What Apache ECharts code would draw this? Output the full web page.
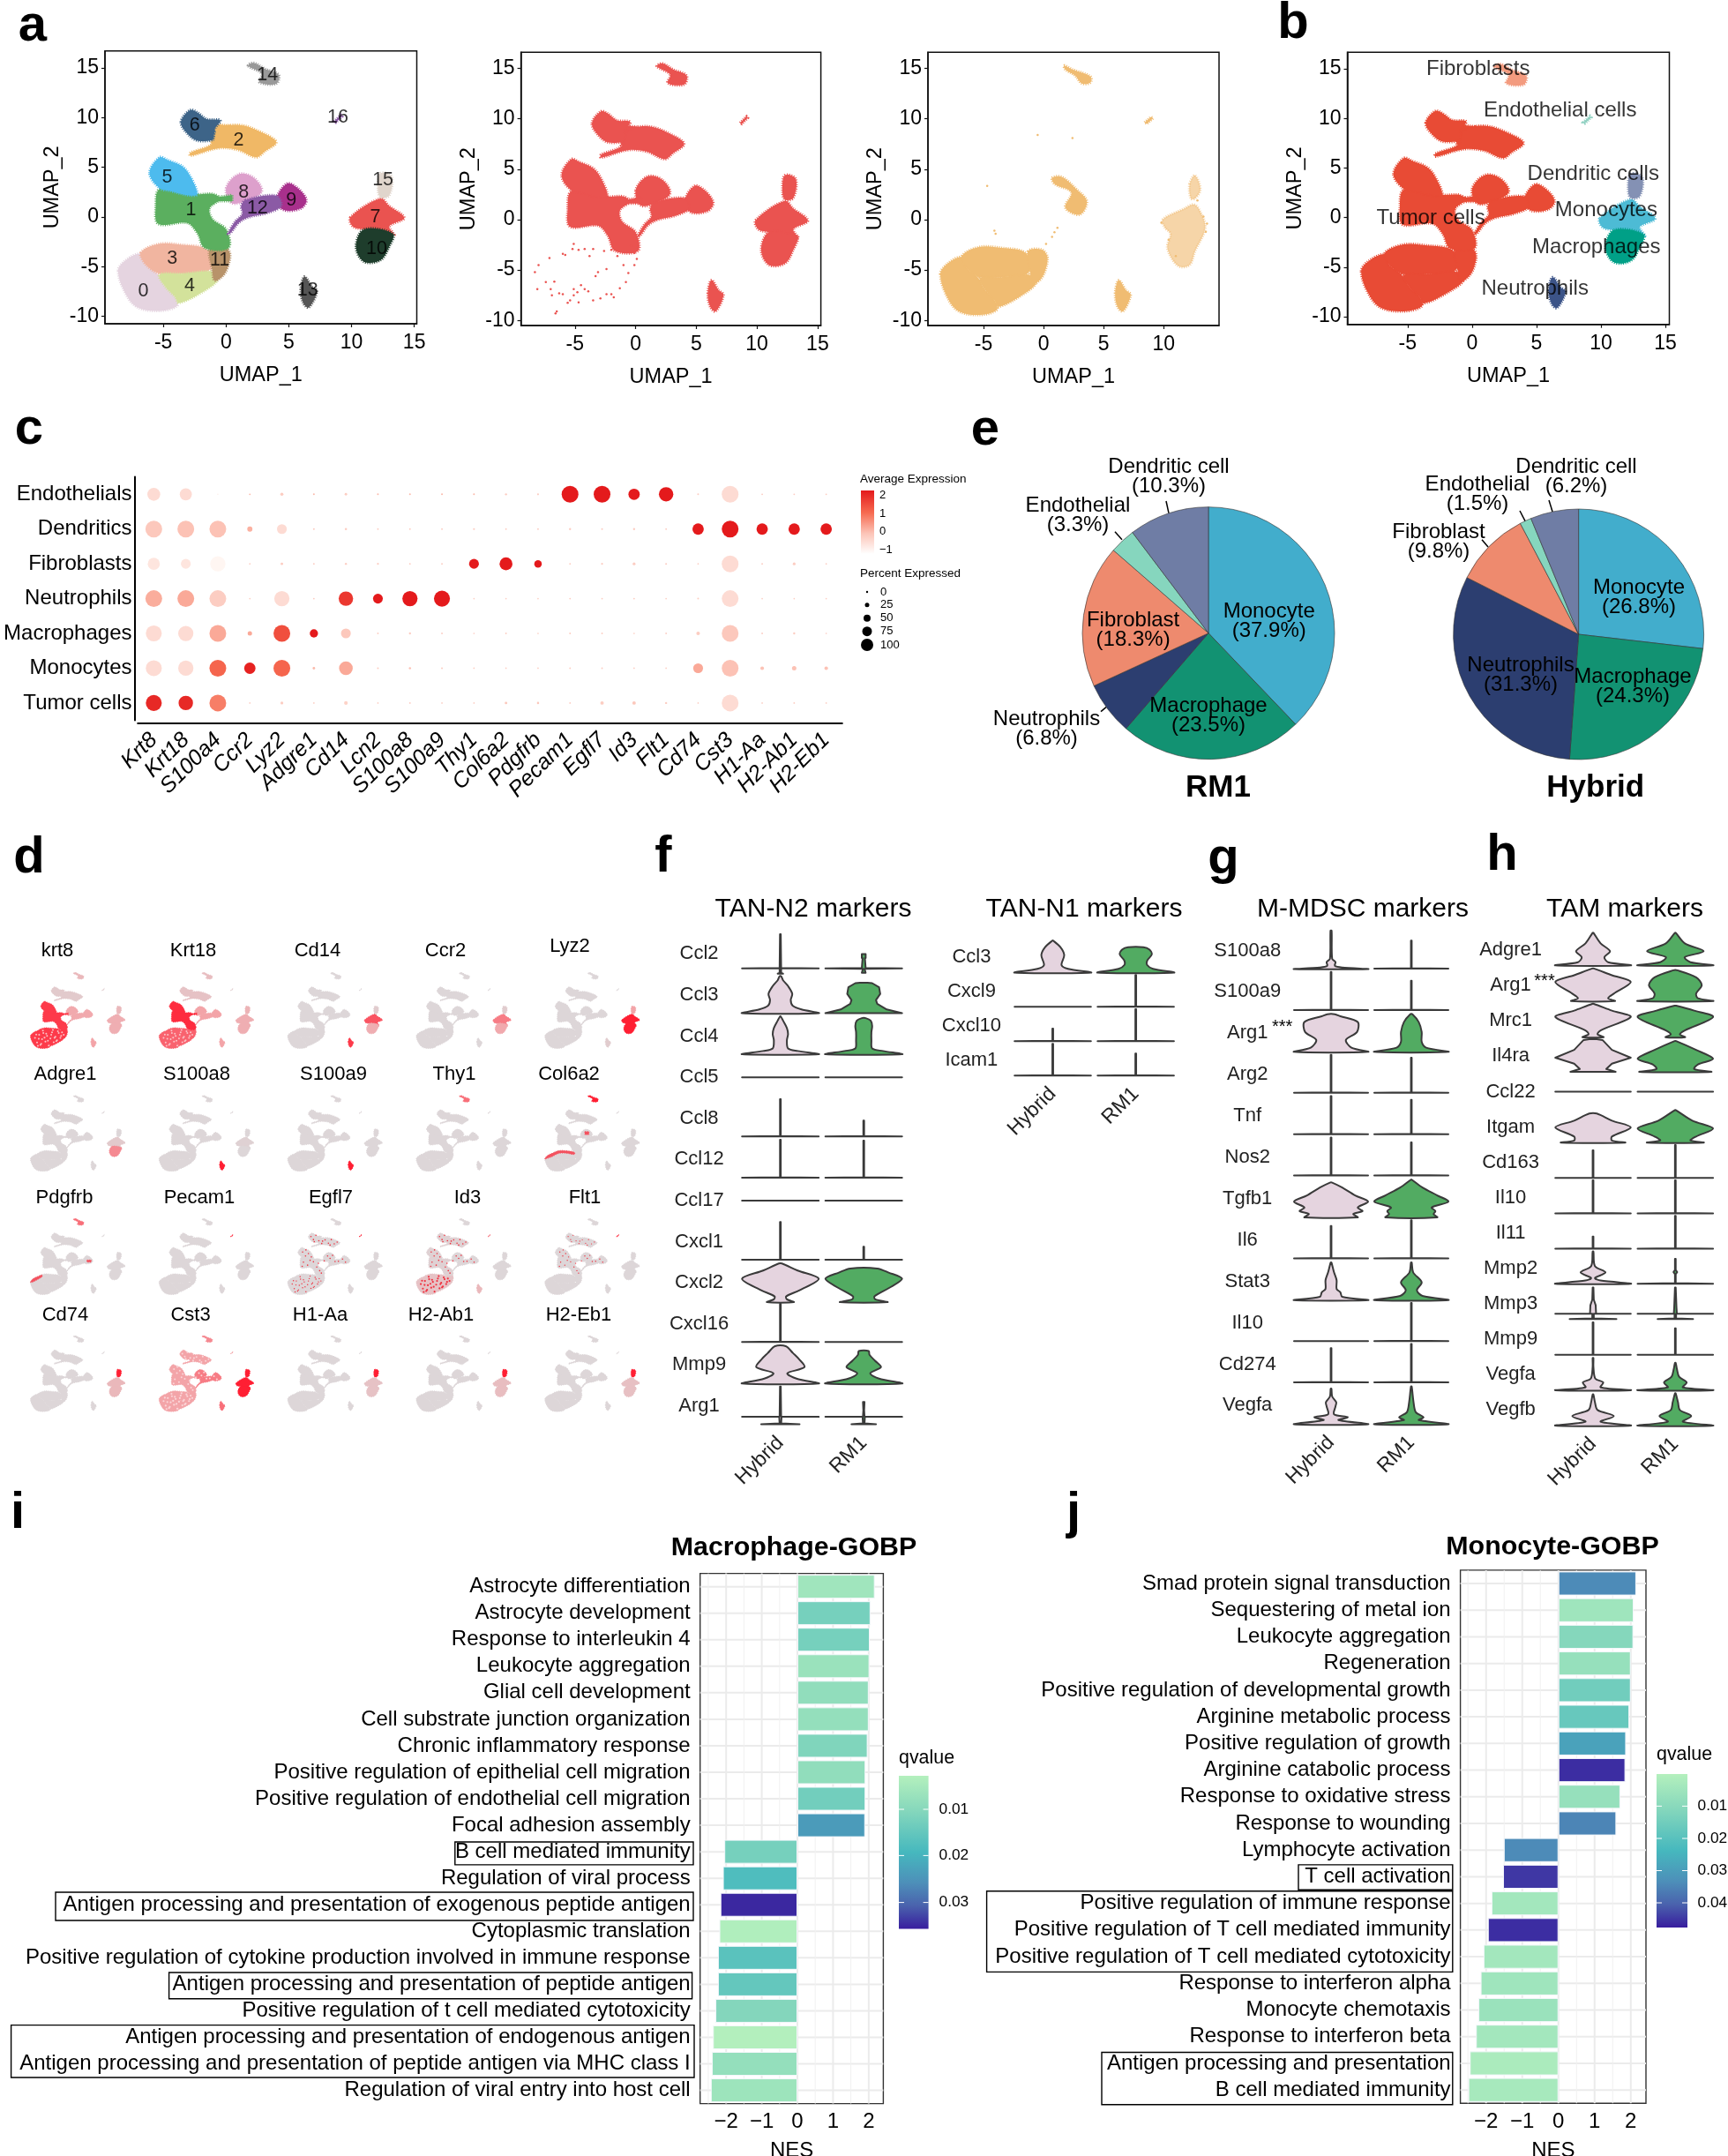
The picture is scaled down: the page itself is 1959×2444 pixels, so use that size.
<!DOCTYPE html>
<html><head><meta charset="utf-8">
<script src="https://cdn.jsdelivr.net/npm/echarts@6/dist/echarts.min.js"></script>
<style>html,body{margin:0;padding:0;background:#fff}#c{width:1959px;height:2444px}</style>
</head><body><div id="c"></div>
<script>
// ---------- UMAP cluster outlines, in UMAP units ----------
const c0=[[-8.6,-5.4],[-8.0,-4.35],[-6.8,-3.7],[-6.4,-4.8],[-5.5,-5.7],[-4.85,-7.0],[-4.05,-8.05],[-3.9,-8.95],[-5.3,-9.45],[-7.05,-9.1],[-8.0,-7.75]];
const c1=[[-5.3,2.8],[-2.85,2.6],[-2.3,2.3],[-1,2.3],[-0.5,1.8],[-1.3,0.9],[-1.1,-0.2],[0,-1.25],[0.2,-3.1],[-1.7,-3.1],[-2.3,-1.6],[-3.1,-0.6],[-5.4,-0.7],[-5.6,1.1]];
const c2=[[-0.65,8.8],[1.1,9.25],[3.1,8.35],[4.0,7.5],[3.1,6.6],[2.4,6.0],[0.9,6.75],[-0.65,6.9],[-2.85,6.15],[-2.85,6.45],[-1.1,7.35]];
const c3=[[-6.8,-3.6],[-5.3,-2.7],[-3.5,-2.8],[-1.55,-3.25],[-1.1,-4.8],[-1.55,-5.5],[-3.5,-5.7],[-5.3,-5.7],[-6.4,-4.8]];
const c4=[[-5.3,-5.8],[-3.5,-5.7],[-1.1,-5.5],[-0.65,-6.3],[-1.75,-7.45],[-3.75,-8.65],[-4.05,-8.05],[-4.85,-7.0]];
const c5=[[-6.1,4.4],[-5.3,6.0],[-4.6,5.7],[-3.5,5.1],[-2.85,4.1],[-2.3,2.3],[-2.85,2.15],[-4.4,2.6],[-5.3,2.9]];
const c6=[[-3.6,9.55],[-2.85,10.75],[-2.2,10.45],[-1.55,9.85],[-0.45,9.7],[-0.9,8.8],[-0.65,7.95],[-2.2,7.65],[-3.1,8.4]];
const c7=[[9.9,-0.05],[12.3,1.85],[13,1.1],[14.2,-0.1],[13,-0.95],[13.4,-1.85],[11,-1.25],[10.1,-0.95]];
const c8=[[0,2.9],[1,4.3],[2.2,3.95],[2.85,2.6],[1.75,1.7],[0.45,1.4]];
const c9=[[4,1.7],[4.85,3.35],[5.7,2.9],[6.4,1.7],[5.95,0.85],[4.6,0.7]];
const c10=[[11,-1.25],[13.3,-1.7],[13,-3],[12.3,-4.35],[11,-4.5],[10.35,-3]];
const c11=[[-1.3,-3.15],[-0.2,-2.95],[0.3,-3.6],[0.2,-4.8],[-0.2,-5.85],[-0.9,-6.4],[-1.1,-5.4]];
const c12=[[1.55,1.7],[4,2.15],[4.4,1.1],[3.3,0.4],[1.75,-0.05],[1.0,-0.6],[0.4,-1.55],[0.15,-1.7],[0.7,-0.5],[1.3,0.3],[1.2,1.1]];
const c13=[[5.95,-7.3],[6.25,-6],[6.85,-7],[7.25,-7.45],[6.6,-9.1],[6.15,-8.65]];
const c14=[[1.75,15.2],[2.2,15.5],[3.1,14.9],[4.2,14.3],[4,13.4],[2.65,13.55],[2.85,14.4]];
const c15=[[12.3,4.4],[13.2,4.05],[13,2.15],[12.3,2],[12.1,2.9]];
const c16=[[8.6,9.6],[9.15,10.25],[9.25,10.1],[8.75,9.5]];
const bridge=[[-0.7,2.0],[0.5,2.2],[0.5,1.6],[-0.7,1.6]];
const topBridge=[[-1.2,9.4],[0.2,9.2],[0.2,7.1],[-1.2,7.4]];
const clusterOutlines=[c0,c3,c4,c11,c1,c5,topBridge,c6,c2,c8,c9,c12,c7,c10,c13,c14,c15,c16,bridge];
const clusterIds=[0,3,4,11,1,5,2,6,2,8,9,12,7,10,13,14,15,16,1];
const clusterColors=['#E5D4E0','#5BAF5F','#F0B866','#F1B5A0','#D3E29B','#4DBBEE','#3D6488','#EA5350','#DDA0CC','#A8308C','#1E3D2C','#B8936A','#8B5AA5','#555555','#999999','#E0D5CC','#8B5AA5'];
const clusterLabelNames=['0','1','2','3','4','5','6','7','8','9','10','11','12','13','14','15','16'];
const clusterLabelX=[-6.6,-2.8,1,-4.3,-2.9,-4.7,-2.5,11.9,1.4,5.2,12,-0.5,2.5,6.5,3.3,12.5,8.9];
const clusterLabelY=[-7.5,0.7,7.7,-4.2,-6.9,4,9.2,-0.05,2.5,1.65,-3.2,-4.35,0.9,-7.4,14.3,3.75,10];
// cell type per cluster id (panel b)
const cellTypes=['Tumor cells','Fibroblasts','Endothelial cells','Dendritic cells','Monocytes','Macrophages','Neutrophils'];
const cellTypeColors=['#E84B35','#F39B7F','#91D1C2','#8491B4','#4DBBD5','#00A087','#3C5488'];
const clusterCellType=[0,0,0,0,0,0,0,4,0,0,5,0,0,6,1,3,2];
const cellLabelX=[-3.2,0.47,6.83,9.4,10.4,9.64,4.88];
const cellLabelY=[-0.06,14.98,10.83,4.39,0.74,-3.02,-7.13];
// sparse RM1 cells in the lower blob
const rm1SparseX=[-8.3,-8,-7.1,-8.1,-7.4,-6.7,-7,-6.3,-6,-5.1,-5.1,-4.5,-4.2,-3.9,-5.6,-4.7,-6.5,-6.6,-5.1,-5.2,-4.7,-5.8,-4.2,-3.5,-2.6,-2,-0.1,0.1,-0.1,-0.6,-0.8,-1.3,-2,-2.9,-2.4,-3.1,-3.3,-1,-6,-3.8,-1.5,-5.4,-2.4,-3.5,-1.8,-0.4,-4.8,-6.9];
const rm1SparseY=[-5.2,-4.5,-3.8,-6.9,-6.2,-6.15,-6.9,-7.3,-7.4,-7.5,-6.9,-6.5,-6.9,-7.1,-8.25,-8.2,-9.1,-9.3,-2.4,-2.9,-3,-3.5,-2.9,-2.9,-3.1,-3,-3.3,-3.9,-4.5,-5.3,-6.2,-6.8,-7.4,-7.8,-4.9,-5.2,-5.6,-4.5,-3.4,-3.6,-3.6,-8,-7.4,-8,-7.7,-2.6,-7.2,-7.5];
// Hybrid shapes
const hySliver=[[0.7,4.15],[1.5,4.25],[2.75,3],[3.6,1.8],[3,0.5],[1.8,1.2],[2.3,2.7],[0.9,3.55]];
const hyFib=[[1.7,15.3],[2.4,14.9],[3.9,14.2],[3.9,13.6],[3.2,13.5],[2.6,14.3],[1.8,14.9]];
const hyEndo=[[8.4,9.65],[8.95,10.2],[9.1,10.05],[8.6,9.5]];
const hyMono=[[9.9,0],[11.7,1.1],[12.5,1.5],[13,0.9],[13.45,-0.8],[12.6,-3.15],[12.15,-4.5],[11.2,-4.6],[10.3,-2.85],[10.55,-1.4],[10.1,-0.8]];
const hyDc=[[12.15,3.55],[12.6,4.4],[13.05,3],[12.6,2.1],[12.25,2.1]];
const hySolid=[c0,c3,c4,c11,hySliver,hyFib,hyEndo,c13];
const hySoft=[hyMono,hyDc];
const hySparseX=[1.15,0.9,0.7,0.2,-4,-4.1,-0.5,2.4,-4.7,13.5,13.3,9.8,10.4,11,12.8,13.6];
const hySparseY=[-0.8,-1.25,-1.7,-2.4,-1.4,-1.1,8.4,8.1,3.35,-1.2,0.3,-0.3,-2,-3.6,1.9,-0.4];
// ---------- panel c ----------
const dotGenes=['Krt8','Krt18','S100a4','Ccr2','Lyz2','Adgre1','Cd14','Lcn2','S100a8','S100a9','Thy1','Col6a2','Pdgfrb','Pecam1','Egfl7','Id3','Flt1','Cd74','Cst3','H1-Aa','H2-Ab1','H2-Eb1'];
const dotCells=['Endothelials','Dendritics','Fibroblasts','Neutrophils','Macrophages','Monocytes','Tumor cells'];
const pctEndo=[75,70,0,2,12,3,8,3,3,3,3,5,4,100,100,65,85,3,100,2,2,2];
const pctDend=[100,100,100,25,55,3,6,2,2,2,4,2,2,5,3,5,2,65,100,65,65,65];
const pctFibr=[70,55,90,1,8,2,5,4,2,2,55,75,40,2,4,10,3,1,100,2,10,1];
const pctNeut=[100,100,100,1,90,2,85,55,90,95,1,1,1,2,2,2,1,3,100,1,1,1];
const pctMacr=[95,90,100,20,100,45,55,2,5,2,1,2,1,3,2,1,2,15,100,2,5,1];
const pctMono=[95,90,100,65,100,8,80,3,6,3,1,1,1,2,2,1,1,55,100,15,20,15];
const pctTumo=[95,85,100,1,10,1,15,1,2,1,1,8,6,2,14,14,5,1,100,1,2,1];
const expEndo=[-.6,-.6,-1,0,-.3,0,-.3,0,0,0,0,-.3,-.3,2,2,2,2,-.3,-.6,-.3,-.3,-.3];
const expDend=[-.2,-.1,-.1,.1,-.6,-.3,-.3,-.3,-.3,-.3,-.3,-.3,-.3,-.3,-.3,-.3,-.3,2,2,2,2,2];
const expFibr=[-.8,-.8,-1.15,-.3,-.3,-.3,-.3,-.3,-.3,-.3,2,2,2,-.3,-.3,-.3,-.3,-.3,-.6,-.3,-.3,-.3];
const expNeut=[.15,.2,-.3,-.3,-.6,-.3,1.6,2,2,2,-.3,-.3,-.3,-.3,-.3,-.3,-.3,-.3,-.6,-.3,-.3,-.3];
const expMacr=[-.6,-.6,.2,.2,1.3,2,-.2,-.3,-.3,-.3,-.3,-.3,-.3,-.3,-.3,-.3,-.3,-.3,-.2,-.3,-.3,-.3];
const expMono=[-.6,-.6,1,1.9,1,0,.2,-.3,-.1,-.3,-.3,-.3,-.3,-.3,-.3,-.3,-.3,.2,-.1,-.1,-.1,-.1];
const expTumo=[1.8,1.8,.7,-.3,-.3,-.3,-.4,-.3,-.3,-.3,-.3,-.2,-.2,-.3,-.3,-.2,-.3,-.3,-.6,-.3,-.3,-.3];
const dotPct=[pctEndo,pctDend,pctFibr,pctNeut,pctMacr,pctMono,pctTumo];
const dotExp=[expEndo,expDend,expFibr,expNeut,expMacr,expMono,expTumo];
// ---------- panel d ----------
const fpGenes=['krt8','Krt18','Cd14','Ccr2','Lyz2','Adgre1','S100a8','S100a9','Thy1','Col6a2','Pdgfrb','Pecam1','Egfl7','Id3','Flt1','Cd74','Cst3','H1-Aa','H2-Ab1','H2-Eb1'];
// intensity per region: blob, top, midL, midR, fib, endo, dc, mono, macro, neut
const fpExpr=[[.9,.12,.9,.45,.3,.1,.3,.4,.4,.5],[.75,.2,.95,.5,.25,.1,.35,.4,.4,.5],[0,0,0,0,0,0,.1,.8,.4,.9],[0,0,0,0,0,0,.1,.65,.45,0],[0,0,0,0,0,0,.5,1,1,.1],[0,0,0,0,0,0,0,.12,.6,0],[0,0,0,0,0,0,0,.05,0,1],[0,0,0,0,0,0,0,0,0,1],[0,0,0,0,.7,0,0,0,0,0],[0,0,0,0,1,0,0,0,0,0],[0,0,0,0,.7,0,0,0,0,0],[0,0,0,0,0,1,0,0,0,0],[0,0,0,0,0,1,0,0,0,0],[.2,.05,.05,0,0,.7,0,0,0,.3],[0,0,0,0,0,1,0,0,0,0],[0,0,0,0,0,0,1,.3,.3,0],[.5,.5,.5,.65,.6,.5,1,1,1,.7],[0,0,0,0,0,0,1,.2,.2,0],[0,0,0,0,0,0,1,.25,.25,0],[0,0,0,0,0,0,1,.22,.22,0]];
const clusterRegion=[0,2,1,0,0,2,1,7,3,3,8,0,3,9,4,6,5];
const fpTitleX=[65,219,360,505,646,74,223,378,515,645,73,226,375,530,663,74,216,363,500,656];
const fpTitleY=[1078,1078,1078,1078,1073,1218,1218,1218,1218,1218,1358,1358,1358,1358,1358,1491,1491,1491,1491,1491];
const edgeLong=[[-8.6,-5.4],[-8,-4.3],[-6.8,-3.5],[-5.3,-2.7],[-3.5,-2.7],[-1.5,-3.2],[-1.5,-3.9],[-3.5,-3.5],[-5.3,-3.6],[-6.8,-4.6],[-8,-5.2]];
const edgeShort=[[-8.6,-5.4],[-8,-4.3],[-6.8,-3.5],[-5.8,-3],[-5.8,-3.6],[-7,-4.6],[-8,-5.3]];
const speckBlobX=[-7.5,-7,-6.5,-6.2,-5.8,-5.5,-5,-4.6,-4.2,-3.8,-3.4,-3,-2.6,-2.2,-1.8,-1.4,-1,-0.6,-7.2,-6.6,-6,-5.2,-4.4,-3.6,-2.8,-2,-1.2,-6.8,-5.6,-4.8,-3.2,-2.4];
const speckBlobY=[-6,-7.5,-5,-8.3,-6.4,-4.4,-7.2,-5.3,-8.5,-6.2,-4.2,-7.4,-5.6,-6.8,-4.4,-6,-4.2,-5,-4.9,-6.3,-7.9,-5.9,-6.9,-5,-6,-3.8,-5.3,-8.6,-3.6,-4.6,-3.4,-7.1];
const speckMidX=[-5,-4.3,-3.6,-2.9,-4.8,-3.8,-2.4,-1.6,-0.9,-0.5,1,1.6,2.2,2.8,3.6,4.6,5.3,0.2,-1.2,-4.2,-3.2,-5.1];
const speckMidY=[4.5,3.2,4,2.9,1.2,0.2,1.3,-0.4,-1.6,-2.4,3.2,2.4,3.4,1.4,1.5,2.2,1.2,1.6,0.8,5.2,1.8,-0.2];
const speckTopX=[-3,-2.4,-1.8,-1.1,-0.4,0.4,1.2,1.9,2.6,3.3,-2.2,-0.2,1.6];
const speckTopY=[9.6,8.6,10,8.2,7.3,8.5,7.4,8.6,7.2,7.8,7.9,8.1,6.8];
// ---------- panel e ----------
const pieNames=['Monocyte','Macrophage','Neutrophils','Fibroblast','Endothelial','Dendritic cell'];
const pieColors=['#42ADCC','#129272','#2C3E70','#EE8A6E','#86D6BE','#6F7DA5'];
const pieRM1=[37.9,23.5,6.8,18.3,3.3,10.3];
const pieHybrid=[26.8,24.3,31.3,9.8,1.5,6.2];
// ---------- panels f, g, h: violin profiles, [level within the row, half width] ----------
const sp=t=>[[-.44,1],[-.43,.01],[t,.01]];
const flat=[[0,1],[0,1]];
const line=[[-.44,1],[-.44,1]];
const f1Genes=['Ccl2','Ccl3','Ccl4','Ccl5','Ccl8','Ccl12','Ccl17','Cxcl1','Cxcl2','Cxcl16','Mmp9','Arg1'];
const f1Hybrid=[[[-.48,.07],[-.46,.02],[-.35,.02],[-.35,1],[-.34,.02],[.48,.01]],
 [[-.44,1],[-.35,.55],[-.26,.32],[-.12,.27],[.03,.31],[.22,.2],[.36,.07],[.46,.02]],
 [[-.44,1],[-.36,.45],[-.3,.2],[-.1,.17],[.05,.2],[.2,.17],[.38,.07],[.48,.01]],
 flat,sp(.47),sp(.48),flat,sp(.48),
 [[-.47,.35],[-.4,.17],[-.33,.15],[-.18,.5],[.1,1],[.3,.45],[.47,.04]],
 sp(.49),
 [[-.45,1],[-.33,.42],[-.2,.18],[-.05,.63],[.15,.48],[.29,.33],[.46,.14]],
 [[-.44,.5],[-.42,.02],[-.26,.03],[-.26,1],[-.25,.02],[.48,.01]]];
const f1RM1=[[[-.46,.05],[-.36,.02],[-.35,1],[-.34,.05],[-.1,.03],[-.1,.05],[0,.05]],
 [[-.44,1],[-.35,.6],[-.21,.35],[-.12,.32],[.03,.43],[.19,.4],[.29,.22],[.3,.1]],
 [[-.44,1],[-.36,.5],[-.3,.22],[-.1,.2],[.1,.2],[.25,.22],[.38,.18],[.44,.05]],
 flat,sp(-.05),sp(.46),flat,sp(-.12),
 [[-.47,.62],[-.4,.3],[-.33,.28],[-.13,.65],[.1,1],[.25,.65],[.35,.35]],
 line,
 [[-.45,1],[-.33,.4],[-.2,.17],[-.05,.45],[.1,.3],[.25,.15],[.34,.13]],
 [[-.44,.32],[-.42,.02],[-.26,.03],[-.26,1],[-.25,.02],[-.1,.01],[.1,.02]]];
const f2Genes=['Ccl3','Cxcl9','Cxcl10','Icam1'];
const f2Hybrid=[[[-.45,1],[-.34,.4],[-.23,.23],[.06,.3],[.29,.2],[.48,.01]],line,sp(-.08),sp(.48)];
const f2RM1=[[[-.45,1],[-.34,.45],[-.23,.3],[-.1,.3],[.08,.42],[.22,.36],[.29,.2]],sp(.48),sp(.49),sp(.2)];
const gGenes=['S100a8','S100a9','Arg1','Arg2','Tnf','Nos2','Tgfb1','Il6','Stat3','Il10','Cd274','Vegfa'];
const gHybrid=[[[-.45,1],[-.41,.3],[-.37,.1],[-.28,.12],[-.2,.03],[.48,.015]],sp(.48),
 [[-.45,1],[-.35,.55],[-.16,.4],[.03,.7],[.27,.72],[.41,.25],[.46,.1]],sp(.48),sp(.48),sp(.48),
 [[-.45,.72],[-.37,.6],[-.3,.85],[-.21,.72],[-.07,1],[.08,.65],[.27,.3],[.39,.03]],sp(.34),
 [[-.45,1],[-.37,.3],[-.26,.25],[-.18,.15],[.03,.15],[.22,.08],[.46,.01]],line,sp(.39),
 [[-.45,1],[-.35,.2],[-.28,.45],[-.21,.08],[-.02,.12],[.08,.14],[.22,.03],[.41,.01]]];
const gRM1=[sp(.24),sp(.27),
 [[-.45,1],[-.35,.4],[-.21,.28],[.03,.28],[.27,.2],[.46,.03]],sp(.41),sp(.39),sp(.36),
 [[-.45,.7],[-.37,.6],[-.3,.65],[-.21,.55],[-.07,1],[.08,.7],[.27,.3],[.46,.01]],sp(.48),
 [[-.45,1],[-.35,.3],[-.21,.15],[-.02,.28],[.22,.05],[.46,.01]],sp(.48),sp(.49),
 [[-.45,1],[-.35,.2],[-.28,.33],[-.16,.12],[.08,.06],[.46,.01]]];
const hGenes=['Adgre1','Arg1','Mrc1','Il4ra','Ccl22','Itgam','Cd163','Il10','Il11','Mmp2','Mmp3','Mmp9','Vegfa','Vegfb'];
const hHybrid=[[[-.43,1],[-.34,.4],[-.2,.3],[-.03,.45],[.19,.2],[.49,.01]],
 [[-.44,.58],[-.36,.4],[-.23,.55],[.1,1],[.29,.5],[.48,.02]],
 [[-.46,.28],[-.38,.12],[-.27,.2],[.11,1],[.29,.5],[.48,.02]],
 [[-.44,.6],[-.36,.35],[-.21,.5],[-.04,1],[.18,.5],[.46,.25],[.48,.1]],
 flat,
 [[-.44,.85],[-.38,.5],[-.27,.5],[-.01,1],[.18,.5],[.38,.1]],
 sp(.34),sp(.49),sp(-.1),
 [[-.43,1],[-.34,.2],[-.27,.05],[-.11,.33],[.07,.05],[.48,.01]],
 [[-.43,.62],[-.41,.02],[-.28,.02],[-.28,1],[-.27,.08],[-.04,.07],[.12,.02],[.46,.01]],
 sp(.48),
 [[-.44,1],[-.36,.2],[-.22,.27],[-.11,.06],[.22,.01],[.47,.01]],
 [[-.44,1],[-.33,.2],[-.17,.55],[0,.12],[.22,.05],[.44,.01]]];
const hRM1=[[[-.43,1],[-.34,.4],[-.2,.25],[-.03,.75],[.19,.25],[.49,.01]],
 [[-.44,1],[-.36,.6],[-.23,.55],[.01,.7],[.23,.55],[.43,.05]],
 [[-.46,.26],[-.38,.12],[-.27,.25],[.11,1],[.29,.5],[.43,.02]],
 [[-.44,.95],[-.36,.5],[-.23,.6],[-.07,1],[.18,.55],[.43,.02]],
 flat,
 [[-.44,.75],[-.38,.4],[-.27,.55],[-.04,1],[.18,.45],[.48,.01]],
 sp(.49),sp(.49),sp(.49),
 [[-.43,1],[-.41,.01],[-.16,.01],[-.1,.05],[-.04,.01],[.27,.01]],
 [[-.43,.47],[-.41,.02],[-.28,.02],[-.28,1],[-.27,.04],[-.1,.03],[.46,.01]],
 sp(.31),
 [[-.44,1],[-.36,.2],[-.22,.3],[-.06,.1],[.17,.04],[.33,.01]],
 [[-.44,1],[-.33,.2],[-.17,.42],[0,.12],[.22,.07],[.47,.01]]];
const groups=['Hybrid','RM1'];
const groupColors=['#E5D4DF','#52AB62'];
// ---------- panels i, j ----------
const iTerms=['Astrocyte differentiation','Astrocyte development','Response to interleukin 4','Leukocyte aggregation','Glial cell development','Cell substrate junction organization','Chronic inflammatory response','Positive regulation of epithelial cell migration','Positive regulation of endothelial cell migration','Focal adhesion assembly','B cell mediated immunity','Regulation of viral process','Antigen processing and presentation of exogenous peptide antigen','Cytoplasmic translation','Positive regulation of cytokine production involved in immune response','Antigen processing and presentation of peptide antigen','Positive regulation of t cell mediated cytotoxicity','Antigen processing and presentation of endogenous antigen','Antigen processing and presentation of peptide antigen via MHC class I','Regulation of viral entry into host cell'];
const iNES=[2.17,2.05,2.03,2.02,2.0,2.0,1.97,1.91,1.91,1.9,-2.05,-2.09,-2.16,-2.19,-2.23,-2.23,-2.3,-2.37,-2.4,-2.43];
const iQ=[.006,.0125,.0125,.007,.0085,.008,.011,.0085,.013,.024,.0125,.018,.035,.0035,.0165,.015,.0105,.003,.008,.0065];
const jTerms=['Smad protein signal transduction','Sequestering of metal ion','Leukocyte aggregation','Regeneration','Positive regulation of developmental growth','Arginine metabolic process','Positive regulation of growth','Arginine catabolic process','Response to oxidative stress','Response to wounding','Lymphocyte activation','T cell activation','Positive regulation of immune response','Positive regulation of T cell mediated immunity','Positive regulation of T cell mediated cytotoxicity','Response to interferon alpha','Monocyte chemotaxis','Response to interferon beta','Antigen processing and presentation','B cell mediated immunity'];
const jNES=[2.15,2.08,2.07,2.0,2.0,1.96,1.87,1.85,1.71,1.6,-1.51,-1.53,-1.85,-1.95,-2.07,-2.15,-2.21,-2.28,-2.45,-2.49];
const jQ=[.034,.005,.011,.007,.015,.017,.029,.046,.007,.035,.034,.045,.004,.046,.004,.005,.006,.004,.002,.003];
const nesTicks=[-2,-1,0,1,2];
const nesMinor=[-2.5,-1.5,-.5,.5,1.5];
const umapTicks=[-5,0,5,10,15];
const umapTicksY=[-10,-5,0,5,10,15];

// ---------- helpers ----------
const FONT='"Liberation Sans", Arial, sans-serif';
const grids=[],xAxes=[],yAxes=[],series=[],gfx=[];
function T(text,x,y,size,o){o=o||{};gfx.push({type:'text',z:50,silent:true,style:{text:text,x:x,y:y,fill:o.fill||'#000',font:(o.italic?'italic ':'')+(o.bold?'bold ':'')+size+'px '+FONT,textAlign:o.align||'center',textVerticalAlign:'middle'}});}
function R(x1,y1,x2,y2,stroke,w){gfx.push({type:'rect',z:49,silent:true,shape:{x:x1,y:y1,width:x2-x1,height:y2-y1},style:{stroke:stroke||'none',lineWidth:w||1,fill:'none'}});}
function L(x1,y1,x2,y2,c,w){gfx.push({type:'line',z:48,silent:true,shape:{x1,y1,x2,y2},style:{stroke:c||'#000',lineWidth:w||1.5}});}
function addGrid(o){o.outerBoundsMode='none';o.containLabel=false;grids.push(o);return grids.length-1;}
function addUmap(box,ext){
  const g=addGrid({left:box[0],top:box[1],width:box[2]-box[0],height:box[3]-box[1],show:true,borderColor:'#111',borderWidth:1.5,backgroundColor:'#fff'});
  xAxes.push({gridIndex:g,type:'value',min:ext[0],max:ext[1],name:'UMAP_1',nameLocation:'middle',nameGap:47,nameTextStyle:{fontFamily:FONT,fontSize:23.5,color:'#000'},
    axisLine:{onZero:false,lineStyle:{color:'#111',width:1.5}},axisTick:{length:4,customValues:umapTicks.filter(v=>v<ext[1]),lineStyle:{color:'#111',width:1.2}},splitLine:{show:false},
    axisLabel:{customValues:umapTicks.filter(v=>v<ext[1]),fontFamily:FONT,fontSize:23,color:'#000',margin:10}});
  yAxes.push({gridIndex:g,type:'value',min:ext[2],max:ext[3],name:'UMAP_2',nameLocation:'middle',nameGap:47,nameRotate:90,nameTextStyle:{fontFamily:FONT,fontSize:23.5,color:'#000'},
    axisLine:{onZero:false,lineStyle:{color:'#111',width:1.5}},axisTick:{length:4,customValues:umapTicksY,lineStyle:{color:'#111',width:1.2}},splitLine:{show:false},
    axisLabel:{customValues:umapTicksY,fontFamily:FONT,fontSize:23,color:'#000',margin:7,padding:[5,0,0,0]}});
  return g;
}
function polySeries(g,list,colorOf,o){o=o||{};
  series.push({type:'custom',xAxisIndex:g,yAxisIndex:g,silent:true,clip:true,z:o.z||2,data:list.map((_,i)=>[i]),
   renderItem:(p,api)=>{const i=p.dataIndex;const col=colorOf(i);
     return {type:'polygon',shape:{points:list[i].map(v=>api.coord(v)),smooth:list[i].length>=5?.35:0},style:{fill:col,opacity:o.opacity==null?1:o.opacity,stroke:col,lineWidth:o.edge==null?3:o.edge,lineDash:[1,1.5]}};}});
}
function dots(g,xs,ys,color,size){series.push({type:'scatter',xAxisIndex:g,yAxisIndex:g,silent:true,z:3,symbolSize:size,itemStyle:{color:color,opacity:1},data:xs.map((x,i)=>[x,ys[i]])});}
function textSeries(g,xs,ys,names,size){series.push({type:'scatter',xAxisIndex:g,yAxisIndex:g,silent:true,z:5,symbolSize:1,itemStyle:{color:'rgba(0,0,0,0)'},
  data:xs.map((x,i)=>[x,ys[i],names[i]]),label:{show:true,position:'inside',formatter:p=>p.data[2],color:'#000',fontFamily:FONT,fontSize:size}});}

// ---------- panels a, b ----------
const a1=addUmap([119,57.7,472.5,367],[-9.65,15.2,-10.74,16.7]);
polySeries(a1,clusterOutlines,i=>clusterColors[clusterIds[i]]);
textSeries(a1,clusterLabelX,clusterLabelY,clusterLabelNames,21.5);
const a2=addUmap([590.6,59.3,930.6,369],[-9.45,15.27,-10.5,16.6]);
const rm1Idx=clusterOutlines.map((_,i)=>i).filter(i=>![0,1,2,3].includes(i));
polySeries(a2,rm1Idx.map(i=>clusterOutlines[i]),()=>'#EA5350');
dots(a2,rm1SparseX,rm1SparseY,'#EA5350',2.5);
const a3=addUmap([1052,59.3,1382,369],[-9.63,14.6,-10.5,16.6]);
polySeries(a3,hySolid,()=>'#F0BC72');
polySeries(a3,hySoft,()=>'#F0BC72',{opacity:.62});
dots(a3,hySparseX,hySparseY,'#F0BC72',2.5);
const b1=addUmap([1527.5,59.3,1892.5,367.7],[-9.67,15.3,-10.76,16.67]);
polySeries(b1,clusterOutlines,i=>cellTypeColors[clusterCellType[clusterIds[i]]]);
textSeries(b1,cellLabelX,cellLabelY,cellTypes,24);

// ---------- panel c ----------
const gc=addGrid({left:156.2,top:540.6,width:798.6,height:276});
xAxes.push({gridIndex:gc,type:'category',data:dotGenes,offset:3.4,axisLine:{lineStyle:{color:'#000',width:2}},axisTick:{alignWithLabel:true,length:6,lineStyle:{color:'#000',width:1.5}},
  axisLabel:{interval:0,rotate:45,fontFamily:FONT,fontSize:25,fontStyle:'italic',color:'#000',margin:15}});
yAxes.push({gridIndex:gc,type:'category',data:dotCells,inverse:true,offset:3.7,axisLine:{lineStyle:{color:'#000',width:2}},axisTick:{alignWithLabel:true,length:3,lineStyle:{color:'#000',width:1.5}},
  axisLabel:{interval:0,fontFamily:FONT,fontSize:24,color:'#000',margin:3}});
const dotData=[];
dotCells.forEach((_,r)=>dotGenes.forEach((__,c)=>dotData.push([c,r,dotPct[r][c],dotExp[r][c]])));
const dotRamp=['#FFF8F5','#FCC5B8','#F66A50','#E41A1C'];
series.push({type:'scatter',xAxisIndex:gc,yAxisIndex:gc,silent:true,data:dotData,symbolSize:v=>1.5+17.5*v[2]/100,
  itemStyle:{opacity:1,color:p=>echarts.color.lerp(Math.min(1,Math.max(0,(p.data[3]+1.2)/3.2)),dotRamp)}});
T('Average Expression',975,543,13.5,{align:'left'});
gfx.push({type:'rect',silent:true,z:40,shape:{x:976,y:556,width:15,height:72},style:{fill:new echarts.graphic.LinearGradient(0,0,0,1,[{offset:0,color:'#E41A1C'},{offset:.35,color:'#F66A50'},{offset:.68,color:'#FCC5B8'},{offset:1,color:'#FFFFFF'}])}});
[['2',561.7],['1',582],['0',602.7],['−1',623]].forEach(a=>T(a[0],997,a[1],13,{align:'left'}));
T('Percent Expressed',975,650.7,13.5,{align:'left'});
[['0',671,1.2],['25',685.7,2.5],['50',700.7,4],['75',715.7,5.5],['100',731,7]].forEach(a=>{
  T(a[0],998,a[1],13,{align:'left'});
  gfx.push({type:'circle',silent:true,z:40,shape:{cx:983,cy:a[1],r:a[2]},style:{fill:'#000'}});
});

// ---------- panel d ----------
const fpLow='#DDD6D8',fpRamp=[fpLow,'#F3A4A8','#FF1F33'];
const fpColL=[34,179.8,325.6,471.4,617.2],fpRowT=[1102,1241.3,1381,1513.7];
fpGenes.forEach((gene,n)=>{
  const col=n%5,row=Math.floor(n/5);
  const g=addGrid({left:fpColL[col],top:fpRowT[row],width:109,height:87});
  xAxes.push({gridIndex:g,type:'value',min:-8.7,max:14.4,show:false});
  yAxes.push({gridIndex:g,type:'value',min:-9.6,max:15.6,show:false});
  polySeries(g,clusterOutlines,i=>echarts.color.lerp(fpExpr[n][clusterRegion[clusterIds[i]]],fpRamp),{edge:1});
  if(gene==='Col6a2')polySeries(g,[edgeLong,[[1,3.6],[2,3.6],[2,2.6],[1,2.6]]],()=>'#F4525F',{edge:1,z:3});
  if(gene==='Pdgfrb')polySeries(g,[edgeShort,[[5,1.9],[6,1.9],[6,1.2],[5,1.2]]],()=>'#F4525F',{edge:1,z:3});
  if(gene==='Egfl7'||gene==='Id3'){dots(g,speckBlobX,speckBlobY,'#F0303F',gene==='Id3'?2.2:1.4);dots(g,speckMidX,speckMidY,'#F0303F',1.6);dots(g,speckTopX,speckTopY,'#F0303F',1.6);}
  if(gene==='Flt1'){dots(g,speckMidX,speckMidY,'#F0303F',1.4);dots(g,speckTopX,speckTopY,'#F0303F',1.2);}
  if(gene==='krt8'||gene==='Krt18'){dots(g,speckBlobX,speckBlobY,'#FBC2C6',2);}
  if(gene==='Cst3'){dots(g,speckBlobX,speckBlobY,'#FBD5D8',2.2);dots(g,speckMidX,speckMidY,'#FBD5D8',2);dots(g,speckTopX,speckTopY,'#FBD5D8',2);}
  T(gene,fpTitleX[n],fpTitleY[n],22);
});

// ---------- panel e ----------
function addPie(vals,cx,cy,r,lx,ly){
  series.push({type:'pie',center:[cx,cy],radius:r,startAngle:90,clockwise:true,silent:true,avoidLabelOverlap:false,sort:null,
    itemStyle:{borderColor:'#333',borderWidth:.6},
    data:pieNames.map((n,i)=>({name:n,value:vals[i],itemStyle:{color:pieColors[i]}})),
    labelLine:{show:false},
    label:{show:true,position:'inside',formatter:p=>p.name+'\n('+p.value+'%)',color:'#000',fontFamily:FONT,fontSize:24,lineHeight:22,align:'center',verticalAlign:'middle'},
    labelLayout:p=>({x:lx[p.dataIndex],y:ly[p.dataIndex],align:'center',verticalAlign:'middle'})});
}
addPie(pieRM1,1370,717.7,143,[1438.7,1370,1186.5,1284.6,1222,1325],[704,811,826.5,714,584,540.5]);
addPie(pieHybrid,1789.6,719,142,[1858,1851,1724,1631,1675,1787],[677,778,765,614.5,560,540]);
L(1322,568,1325,581.7);L(1264,602.7,1272,611.7);L(1248,806.7,1254,801.7);
L(1723,579,1729,590.7);L(1756,567,1760,580);L(1680,611.7,1687,620);
T('RM1',1381,893.5,35,{bold:true});T('Hybrid',1808.7,893.5,35,{bold:true});

// ---------- panels f, g, h ----------
function addViolin(genes,hy,rm,cx0,cx1,halfPx,rowTop,rowH,labelX,titleX,title){
  const band=cx1-cx0,left=cx0-band/2;
  const g=addGrid({left:left,top:rowTop,width:band*2,height:rowH*genes.length});
  xAxes.push({gridIndex:g,type:'category',data:groups,axisLine:{show:false},axisTick:{show:false},axisLabel:{interval:0,rotate:45,fontFamily:FONT,fontSize:23,color:'#222',margin:15}});
  yAxes.push({gridIndex:g,type:'category',data:genes,inverse:true,axisLine:{show:false},axisTick:{show:false},axisLabel:{interval:0,align:'center',fontFamily:FONT,fontSize:22,color:'#222',margin:left-labelX}});
  const items=[];genes.forEach((_,r)=>groups.forEach((__,c)=>items.push([c,r])));
  const tables=[hy,rm];
  series.push({type:'custom',xAxisIndex:g,yAxisIndex:g,silent:true,clip:false,data:items,encode:{x:0,y:1},
    renderItem:(p,api)=>{
      const c=api.value(0),r=api.value(1),ctr=api.coord([c,r]),bh=api.size([0,1])[1],prof=tables[c][r];
      const lft=prof.map(q=>[ctr[0]-q[1]*halfPx,ctr[1]-q[0]*bh]);
      const rgt=prof.slice().reverse().map(q=>[ctr[0]+q[1]*halfPx,ctr[1]-q[0]*bh]);
      const soft=prof.length>=5&&prof.every((q,k)=>k===0||q[0]-prof[k-1][0]>=.03);
      return {type:'polygon',shape:{points:lft.concat(rgt),smooth:soft?.3:0},style:{fill:groupColors[c],stroke:'#3A3A3A',lineWidth:2,lineJoin:'round'}};
    }});
  T(title,titleX,1031,30);
}
addViolin(f1Genes,f1Hybrid,f1RM1,884.7,979.2,43.5,1058.1,46.6,792.6,922,'TAN-N2 markers');
addViolin(f2Genes,f2Hybrid,f2RM1,1193.5,1287.6,43.3,1065.5,39,1101.4,1229,'TAN-N1 markers');
addViolin(gGenes,gHybrid,gRM1,1509,1600,42,1054,46.9,1414.2,1545,'M-MDSC markers');
addViolin(hGenes,hHybrid,hRM1,1806,1899.3,42.8,1057,40.1,1712.6,1842,'TAM markers');
T('***',1453.6,1164,20);T('***',1751,1112,20);

// ---------- panels i, j ----------
const qStops=[[0,'#B4F0BD'],[.22,'#87D8BC'],[.5,'#46B8BE'],[.7,'#4D8FB9'],[.85,'#4A62AD'],[1,'#381D9E']];
function qCol(t){for(let i=1;i<qStops.length;i++){if(t<=qStops[i][0]){const a=qStops[i-1],b=qStops[i];return echarts.color.lerp((t-a[0])/(b[0]-a[0]),[a[1],b[1]]);}}return qStops[5][1];}
function addBars(terms,nes,q,box,ext,qr){
  const g=addGrid({left:box[0],top:box[1],width:box[2]-box[0],height:box[3]-box[1],show:true,borderColor:'#333',borderWidth:1.4,backgroundColor:'#fff'});
  xAxes.push({gridIndex:g,type:'value',min:ext[0],max:ext[1],name:'NES',nameLocation:'middle',nameGap:42,nameTextStyle:{fontFamily:FONT,fontSize:24,color:'#000'},
    axisLine:{show:false,onZero:false},axisTick:{length:5,customValues:nesTicks,lineStyle:{color:'#333',width:1.4}},splitLine:{show:false},
    axisLabel:{customValues:nesTicks,fontFamily:FONT,fontSize:24,color:'#000',margin:9,formatter:v=>String(v).replace('-','−')}});
  yAxes.push({gridIndex:g,type:'category',data:terms,inverse:true,axisLine:{show:false,onZero:false},axisTick:{alignWithLabel:true,length:7,lineStyle:{color:'#333',width:1.4}},
    axisLabel:{interval:0,fontFamily:FONT,fontSize:24,color:'#000',margin:11}});
  series.push({type:'custom',xAxisIndex:g,yAxisIndex:g,silent:true,z:1,data:terms.map((_,i)=>[0,i]),encode:{x:0,y:1},
    renderItem:(p,api)=>{const y=api.coord([0,p.dataIndex])[1],r=p.coordSys;return {type:'line',shape:{x1:r.x,y1:y,x2:r.x+r.width,y2:y},style:{stroke:'#EBEBEB',lineWidth:2}};}});
  series.push({type:'custom',xAxisIndex:g,yAxisIndex:g,silent:true,z:1,data:nesTicks.map(v=>[v,0]),encode:{x:0,y:1},
    renderItem:(p,api)=>{const x=api.coord([nesTicks[p.dataIndex],0])[0],r=p.coordSys;return {type:'line',shape:{x1:x,y1:r.y,x2:x,y2:r.y+r.height},style:{stroke:'#EBEBEB',lineWidth:2}};}});
  series.push({type:'custom',xAxisIndex:g,yAxisIndex:g,silent:true,z:1,data:nesMinor.map(v=>[v,0]),encode:{x:0,y:1},
    renderItem:(p,api)=>{const x=api.coord([nesMinor[p.dataIndex],0])[0],r=p.coordSys;return {type:'line',shape:{x1:x,y1:r.y,x2:x,y2:r.y+r.height},style:{stroke:'#F1F1F1',lineWidth:1}};}});
  series.push({type:'bar',xAxisIndex:g,yAxisIndex:g,silent:true,z:3,barCategoryGap:'10%',
    data:nes.map((v,i)=>({value:v,itemStyle:{color:qCol((q[i]-qr[0])/(qr[1]-qr[0])),borderColor:'#F4F7FB',borderWidth:1}}))});
}
function qLegend(x1,x2,y1,y2,titleY,labelX,labels,ys){
  T('qvalue',x1,titleY,21.4,{align:'left'});
  gfx.push({type:'rect',silent:true,z:40,shape:{x:x1,y:y1,width:x2-x1,height:y2-y1},style:{fill:new echarts.graphic.LinearGradient(0,0,0,1,qStops.map(s=>({offset:s[0],color:s[1]})))}});
  labels.forEach((s,i)=>{T(s,labelX,ys[i],17.3,{align:'left'});L(x1,ys[i],x1+6,ys[i],'#fff',1);L(x2-6,ys[i],x2,ys[i],'#fff',1);});
}
addBars(iTerms,iNES,iQ,[793.7,1783.6,1001.4,2384.6],[-2.73,2.41],[.0028,.0358]);
addBars(jTerms,jNES,jQ,[1655.6,1779.9,1866,2384.3],[-2.71,2.42],[0,.0477]);
T('Macrophage-GOBP',900,1754.6,30.4,{bold:true});
T('Monocyte-GOBP',1760,1753.6,30.4,{bold:true});
qLegend(1019,1052.6,2013,2186.5,1993,1064.6,['0.01','0.02','0.03'],[2051,2103.4,2156.6]);
qLegend(1878,1913,2010.9,2185,1989.5,1924.6,['0.01','0.02','0.03','0.04'],[2047.4,2084,2120.5,2157]);
[[515.8,2088,786,2113.9],[63,2145,786,2177],[191.6,2236,784.6,2265.7],[12.6,2295.6,787,2355],
 [1472,2113.9,1646.8,2142.3],[1118.6,2143.8,1646.8,2235.4],[1249,2326.5,1646.8,2385.8]].forEach(b=>R(b[0],b[1],b[2],b[3],'#000',1.4));

// ---------- panel letters ----------
[['a',37,30],['b',1466,27],['c',33,487],['d',33,973],['e',1117,488],['f',752,972],['g',1387,974],['h',1703,970],['i',20,1716],['j',1217,1716]]
 .forEach(a=>T(a[0],a[1],a[2],58,{bold:true}));

const chart=echarts.init(document.getElementById('c'),null,{renderer:'canvas'});
chart.setOption({animation:false,backgroundColor:'#fff',textStyle:{fontFamily:FONT},grid:grids,xAxis:xAxes,yAxis:yAxes,series:series,graphic:{elements:gfx}});
</script></body></html>
